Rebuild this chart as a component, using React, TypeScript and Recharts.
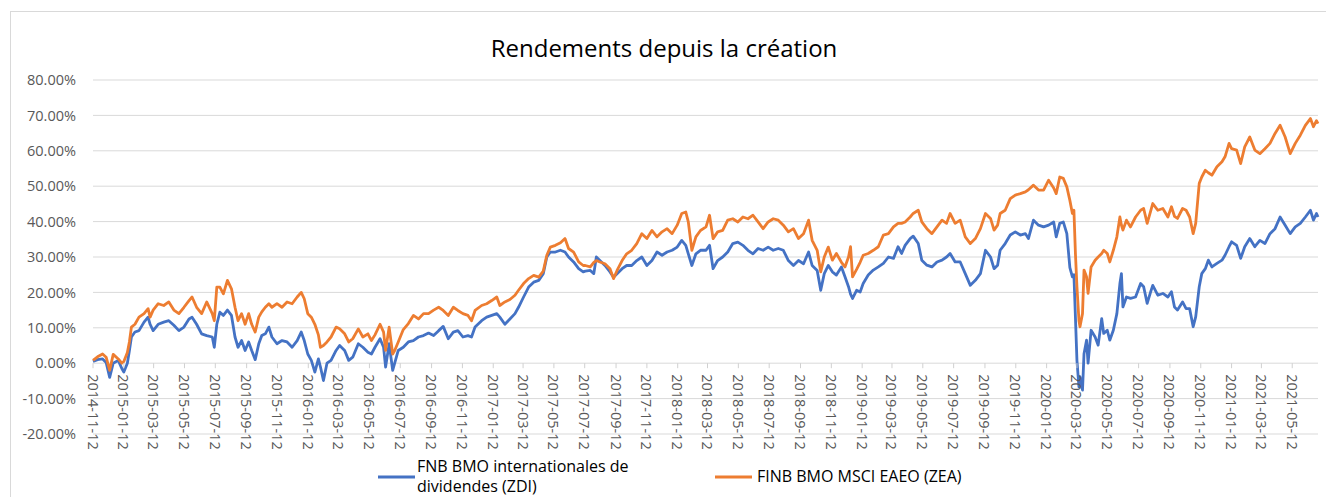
import { LineChart, Line, XAxis, YAxis, CartesianGrid } from 'recharts';

// Cumulative return since inception, in percent
const dates = [
  '2014-11-12', '2014-11-21', '2014-12-01', '2014-12-08', '2014-12-15', '2014-12-22', '2015-01-01', '2015-01-08',
  '2015-01-12', '2015-01-19', '2015-01-23', '2015-01-27', '2015-02-03', '2015-02-11', '2015-02-21', '2015-03-01',
  '2015-03-05', '2015-03-11', '2015-03-21', '2015-04-01', '2015-04-11', '2015-04-21', '2015-05-01', '2015-05-11',
  '2015-05-21', '2015-05-27', '2015-06-05', '2015-06-15', '2015-06-25', '2015-07-06', '2015-07-10', '2015-07-15',
  '2015-07-21', '2015-07-28', '2015-08-05', '2015-08-13', '2015-08-20', '2015-08-26', '2015-09-02', '2015-09-09',
  '2015-09-16', '2015-09-22', '2015-09-29', '2015-10-06', '2015-10-12', '2015-10-19', '2015-10-26', '2015-11-01',
  '2015-11-11', '2015-11-21', '2015-12-01', '2015-12-11', '2015-12-21', '2015-12-29', '2016-01-04', '2016-01-11',
  '2016-01-18', '2016-01-25', '2016-02-01', '2016-02-05', '2016-02-11', '2016-02-18', '2016-02-26', '2016-03-07',
  '2016-03-14', '2016-03-24', '2016-04-01', '2016-04-09', '2016-04-20', '2016-04-29', '2016-05-09', '2016-05-16',
  '2016-05-23', '2016-06-02', '2016-06-09', '2016-06-13', '2016-06-20', '2016-06-27', '2016-07-01', '2016-07-08',
  '2016-07-18', '2016-07-28', '2016-08-07', '2016-08-17', '2016-08-27', '2016-09-06', '2016-09-16', '2016-09-26',
  '2016-10-05', '2016-10-15', '2016-10-25', '2016-11-03', '2016-11-13', '2016-11-23', '2016-11-30', '2016-12-07',
  '2016-12-20', '2016-12-30', '2017-01-09', '2017-01-19', '2017-01-25', '2017-02-04', '2017-02-14', '2017-02-24',
  '2017-03-03', '2017-03-13', '2017-03-23', '2017-04-02', '2017-04-12', '2017-04-21', '2017-04-28', '2017-05-05',
  '2017-05-15', '2017-05-25', '2017-06-03', '2017-06-10', '2017-06-20', '2017-06-30', '2017-07-09', '2017-07-13',
  '2017-07-23', '2017-07-30', '2017-08-04', '2017-08-11', '2017-08-21', '2017-08-31', '2017-09-07', '2017-09-14',
  '2017-09-24', '2017-10-03', '2017-10-13', '2017-10-23', '2017-11-02', '2017-11-12', '2017-11-22', '2017-12-02',
  '2017-12-12', '2017-12-22', '2018-01-01', '2018-01-11', '2018-01-20', '2018-01-28', '2018-02-02', '2018-02-09',
  '2018-02-17', '2018-02-26', '2018-03-09', '2018-03-16', '2018-03-23', '2018-04-01', '2018-04-11', '2018-04-21',
  '2018-05-01', '2018-05-11', '2018-05-21', '2018-05-31', '2018-06-10', '2018-06-20', '2018-06-30', '2018-07-10',
  '2018-07-20', '2018-07-30', '2018-08-09', '2018-08-19', '2018-08-29', '2018-09-08', '2018-09-18', '2018-09-28',
  '2018-10-05', '2018-10-15', '2018-10-22', '2018-10-29', '2018-11-06', '2018-11-14', '2018-11-22', '2018-12-02',
  '2018-12-09', '2018-12-16', '2018-12-20', '2018-12-24', '2019-01-01', '2019-01-08', '2019-01-14', '2019-01-24',
  '2019-02-03', '2019-02-13', '2019-02-23', '2019-03-05', '2019-03-15', '2019-03-24', '2019-03-31', '2019-04-07',
  '2019-04-17', '2019-04-23', '2019-05-03', '2019-05-10', '2019-05-20', '2019-05-30', '2019-06-09', '2019-06-19',
  '2019-06-28', '2019-07-05', '2019-07-15', '2019-07-25', '2019-08-04', '2019-08-14', '2019-08-24', '2019-09-03',
  '2019-09-13', '2019-09-23', '2019-09-30', '2019-10-07', '2019-10-12', '2019-10-22', '2019-11-01', '2019-11-11',
  '2019-11-21', '2019-12-01', '2019-12-07', '2019-12-17', '2019-12-27', '2020-01-06', '2020-01-16', '2020-01-26',
  '2020-01-31', '2020-02-07', '2020-02-14', '2020-02-21', '2020-02-27', '2020-03-03', '2020-03-06', '2020-03-09',
  '2020-03-12', '2020-03-16', '2020-03-18', '2020-03-23', '2020-03-26', '2020-03-31', '2020-04-03', '2020-04-09',
  '2020-04-17', '2020-04-23', '2020-04-30', '2020-05-04', '2020-05-11', '2020-05-16', '2020-05-23', '2020-05-30',
  '2020-06-05', '2020-06-08', '2020-06-11', '2020-06-18', '2020-06-26', '2020-07-06', '2020-07-16', '2020-07-22',
  '2020-07-29', '2020-08-05', '2020-08-09', '2020-08-19', '2020-08-29', '2020-09-08', '2020-09-15', '2020-09-21',
  '2020-09-27', '2020-10-07', '2020-10-14', '2020-10-21', '2020-10-28', '2020-11-02', '2020-11-09', '2020-11-14',
  '2020-11-21', '2020-11-27', '2020-12-04', '2020-12-14', '2020-12-24', '2020-12-30', '2021-01-07', '2021-01-12',
  '2021-01-22', '2021-01-30', '2021-02-07', '2021-02-17', '2021-02-27', '2021-03-09', '2021-03-19', '2021-03-29',
  '2021-04-08', '2021-04-18', '2021-04-28', '2021-05-08', '2021-05-18', '2021-05-28', '2021-06-07', '2021-06-17',
  '2021-06-23', '2021-06-29', '2021-07-02',
];

const zdi = [
  0.5, 1.0, 1.2, 0.2, -4.0, 0.0, 0.8, -1.5,
  -2.5, 0.0, 3.5, 7.4, 8.8, 9.2, 11.6, 13.0,
  11.0, 9.2, 11.0, 11.6, 12.0, 10.7, 9.2, 10.2,
  12.5, 13.0, 11.0, 8.3, 7.8, 7.4, 4.5, 11.0,
  14.4, 13.5, 15.0, 13.5, 7.4, 4.5, 6.4, 3.6,
  6.0, 3.6, 1.0, 5.5, 7.8, 8.3, 10.2, 7.4,
  5.5, 6.4, 6.0, 4.5, 6.4, 8.8, 6.4, 2.6,
  0.8, -2.5, 1.2, -1.0, -4.9, 0.0, 0.8, 3.6,
  5.0, 3.6, 0.8, 1.7, 5.5, 4.5, 3.1, 2.6,
  4.5, 6.9, 4.5, -1.1, 5.5, -2.0, 0.0, 3.6,
  4.5, 6.0, 6.4, 7.4, 7.8, 8.5, 7.8, 9.2,
  10.4, 6.9, 8.8, 9.2, 7.4, 7.8, 7.4, 10.2,
  12.0, 13.0, 13.5, 14.0, 13.0, 11.0, 12.5, 14.0,
  15.8, 18.7, 21.5, 22.9, 23.4, 25.3, 30.0, 31.4,
  31.4, 31.9, 31.4, 30.0, 28.6, 26.7, 25.8, 26.0,
  26.2, 25.3, 30.0, 29.0, 27.6, 25.8, 24.3, 25.3,
  26.7, 27.6, 27.6, 29.0, 30.0, 27.6, 29.0, 31.4,
  30.5, 31.4, 31.9, 32.8, 34.7, 33.3, 30.9, 27.6,
  30.9, 31.9, 31.9, 33.3, 26.7, 29.0, 30.0, 31.4,
  33.8, 34.2, 33.3, 31.9, 30.9, 32.4, 31.9, 32.8,
  31.9, 32.4, 31.9, 29.0, 27.6, 29.0, 28.1, 31.4,
  27.6, 26.2, 20.6, 25.3, 27.6, 25.8, 24.9, 27.2,
  24.4, 21.6, 19.5, 18.3, 20.6, 20.1, 22.5, 24.9,
  26.3, 27.2, 28.2, 30.0, 29.6, 32.9, 31.0, 33.3,
  35.2, 35.9, 33.8, 29.1, 27.7, 27.2, 28.6, 29.1,
  30.0, 31.0, 28.6, 28.6, 25.3, 22.0, 23.4, 25.3,
  31.9, 30.0, 26.7, 27.7, 31.9, 33.8, 36.2, 37.1,
  36.2, 36.6, 35.2, 40.4, 39.0, 38.5, 39.0, 39.9,
  35.7, 39.5, 39.9, 36.6, 27.0, 24.4, 25.0, 13.0,
  0.8, -6.7, -3.9, -7.6, 2.7, 6.5, 0.0, 9.3,
  7.4, 5.1, 12.6, 8.4, 9.3, 6.5, 9.3, 14.0,
  22.5, 25.3, 15.9, 18.7, 18.3, 18.7, 22.5, 21.6,
  16.9, 20.2, 22.0, 19.2, 19.7, 18.7, 20.2, 15.9,
  15.0, 17.3, 15.4, 15.4, 10.3, 13.1, 21.6, 25.3,
  26.7, 29.1, 27.2, 28.2, 29.1, 30.5, 32.9, 34.3,
  33.3, 29.6, 32.9, 35.2, 32.9, 34.7, 33.8, 36.6,
  38.0, 41.3, 39.0, 36.6, 38.5, 39.5, 41.3, 43.2,
  40.4, 42.3, 41.3,
];

const zea = [
  0.8, 1.8, 2.6, 1.7, -2.0, 2.5, 1.2, 0.0,
  0.5, 3.0, 6.0, 10.2, 11.0, 13.0, 14.0, 15.4,
  13.0, 15.0, 16.8, 16.3, 17.3, 15.0, 14.0, 15.8,
  17.7, 18.7, 15.8, 14.0, 17.3, 14.0, 12.0, 21.5,
  21.5, 19.6, 23.4, 21.0, 15.8, 12.0, 14.0, 11.0,
  14.0, 11.0, 8.8, 13.0, 14.5, 15.8, 16.8, 15.8,
  16.8, 15.8, 17.3, 16.8, 18.7, 20.0, 18.2, 14.0,
  13.0, 11.0, 8.0, 4.5, 5.0, 6.0, 7.4, 10.2,
  9.7, 8.3, 6.0, 6.9, 9.7, 7.4, 8.3, 6.4,
  8.0, 11.0, 8.8, 3.6, 10.2, 2.6, 3.6, 6.0,
  9.5, 11.2, 13.5, 12.5, 14.0, 14.0, 15.0, 15.8,
  14.9, 13.5, 15.8, 14.9, 14.0, 13.5, 12.0, 14.9,
  16.3, 16.8, 17.7, 18.7, 16.3, 17.3, 18.0, 19.2,
  20.6, 22.5, 23.9, 24.8, 24.3, 26.0, 30.5, 32.8,
  33.3, 34.0, 35.2, 32.4, 31.4, 28.6, 27.6, 27.6,
  27.2, 28.5, 29.0, 28.6, 28.1, 26.7, 23.9, 26.2,
  29.0, 30.9, 31.9, 33.8, 36.6, 35.2, 37.5, 35.7,
  37.1, 38.0, 36.6, 39.0, 42.3, 42.7, 39.9, 31.9,
  35.7, 37.5, 38.5, 41.8, 35.2, 37.1, 37.5, 40.4,
  40.8, 39.9, 41.3, 40.8, 41.8, 39.9, 38.0, 39.9,
  40.8, 40.4, 39.0, 37.1, 38.0, 35.2, 36.6, 40.4,
  34.7, 31.9, 25.8, 30.0, 32.8, 29.1, 31.0, 28.5,
  27.2, 30.0, 32.9, 24.4, 26.5, 28.5, 30.5, 31.0,
  31.9, 32.9, 36.2, 36.6, 38.5, 39.5, 39.5, 39.9,
  41.3, 42.3, 43.2, 39.9, 38.0, 36.6, 38.5, 40.4,
  39.5, 42.3, 39.5, 40.4, 35.7, 33.8, 35.2, 38.0,
  42.3, 40.9, 37.6, 39.0, 42.3, 43.2, 46.5, 47.5,
  47.9, 48.4, 49.0, 50.3, 48.9, 48.9, 51.7, 49.5,
  47.9, 52.6, 52.2, 49.8, 46.0, 42.3, 43.2, 31.0,
  21.6, 12.0, 10.3, 14.0, 26.3, 24.4, 19.7, 27.2,
  29.1, 30.0, 31.0, 31.9, 31.0, 28.6, 31.9, 35.7,
  41.3, 39.0, 37.6, 40.4, 38.5, 41.3, 43.2, 43.7,
  39.5, 43.0, 45.1, 43.2, 43.7, 41.3, 44.2, 41.5,
  40.9, 43.7, 43.2, 41.3, 36.6, 39.5, 50.8, 52.6,
  54.5, 53.8, 53.1, 55.5, 56.9, 58.3, 62.1, 60.6,
  60.2, 56.4, 61.1, 63.9, 60.2, 59.2, 60.6, 62.1,
  64.9, 67.2, 63.9, 59.2, 62.1, 64.4, 67.2, 69.1,
  66.8, 68.5, 67.7,
];

const tickDates = [
  '2014-11-12', '2015-01-12', '2015-03-12', '2015-05-12', '2015-07-12', '2015-09-12', '2015-11-12',
  '2016-01-12', '2016-03-12', '2016-05-12', '2016-07-12', '2016-09-12', '2016-11-12',
  '2017-01-12', '2017-03-12', '2017-05-12', '2017-07-12', '2017-09-12', '2017-11-12',
  '2018-01-12', '2018-03-12', '2018-05-12', '2018-07-12', '2018-09-12', '2018-11-12',
  '2019-01-12', '2019-03-12', '2019-05-12', '2019-07-12', '2019-09-12', '2019-11-12',
  '2020-01-12', '2020-03-12', '2020-05-12', '2020-07-12', '2020-09-12', '2020-11-12',
  '2021-01-12', '2021-03-12', '2021-05-12',
];

const yTicks = [-20, -10, 0, 10, 20, 30, 40, 50, 60, 70, 80];

const series = [
  { key: 'zdi', lines: ['FNB BMO internationales de', 'dividendes (ZDI)'], color: '#4472C4' },
  { key: 'zea', lines: ['FINB BMO MSCI EAEO (ZEA)'], color: '#ED7D31' },
];

const W = 1326;
const H = 497;
const PLOT_TOP = 80;
const PLOT_BOTTOM = 434;
const Y_MIN = -20;
const Y_MAX = 80;
const ZERO_Y = PLOT_TOP + ((PLOT_BOTTOM - PLOT_TOP) * Y_MAX) / (Y_MAX - Y_MIN);
const FONT = '"Open Sans", "Noto Sans", sans-serif';

const toTime = (d: string) => new Date(d + 'T00:00:00Z').getTime();

const data = dates.map((d, i) => ({ t: toTime(d), zdi: zdi[i], zea: zea[i] }));

// Excel puts the date axis where y = 0, so ticks and labels are drawn there
const DateTick = ({ x, payload }: any) => {
  const label = new Date(payload.value).toISOString().slice(0, 10);
  return (
    <g>
      <line x1={x} x2={x} y1={ZERO_Y} y2={ZERO_Y + 5} stroke="#d0d0d0" />
      <text
        transform={`translate(${x},${ZERO_Y + 11}) rotate(90)`}
        textAnchor="start"
        dominantBaseline="central"
        fill="#595959"
        fontSize={14.5}
        fontFamily={FONT}
      >
        {label}
      </text>
    </g>
  );
};

const legendPos = [
  { lineX: 378, textX: 417, y: 477 },
  { lineX: 715, textX: 757, y: 477 },
];

export default function App() {
  return (
    <div style={{ position: 'absolute', left: 0, top: 0, width: W, height: H, background: '#fff', overflow: 'hidden' }}>
      <div
        style={{
          position: 'absolute',
          left: 10,
          top: 11,
          width: W,
          height: H,
          borderLeft: '1px solid #d9d9d9',
          borderTop: '1px solid #d9d9d9',
        }}
      />
      <LineChart width={W} height={H} data={data} margin={{ top: PLOT_TOP, right: 8, bottom: H - PLOT_BOTTOM - 30, left: 0 }}>
        <CartesianGrid vertical={false} stroke="#d9d9d9" />
        <XAxis
          type="number"
          dataKey="t"
          domain={[toTime(dates[0]), toTime(dates[dates.length - 1])]}
          ticks={tickDates.map(toTime)}
          interval={0}
          height={30}
          axisLine={false}
          tickLine={false}
          tick={<DateTick />}
        />
        <YAxis
          domain={[Y_MIN, Y_MAX]}
          ticks={yTicks}
          width={93}
          axisLine={false}
          tickLine={false}
          tickSize={0}
          tickMargin={17}
          tickFormatter={(v: number) => `${v.toFixed(2)}%`}
          tick={{ fill: '#595959', fontSize: 14.5, fontFamily: FONT }}
        />
        {series.map((s) => (
          <Line
            key={s.key}
            type="linear"
            dataKey={s.key}
            stroke={s.color}
            strokeWidth={2.8}
            strokeLinejoin="round"
            dot={false}
            activeDot={false}
            isAnimationActive={false}
          />
        ))}
      </LineChart>
      <svg width={W} height={H} style={{ position: 'absolute', left: 0, top: 0, pointerEvents: 'none' }}>
        <text x={664} y={57} textAnchor="middle" fontSize={24} fontFamily={FONT} fill="#000">
          Rendements depuis la création
        </text>
        {series.map((s, i) => {
          const p = legendPos[i];
          const first = p.y - (s.lines.length - 1) * 10 + 5;
          return (
            <g key={s.key}>
              <line x1={p.lineX} x2={p.lineX + 37} y1={p.y} y2={p.y} stroke={s.color} strokeWidth={3} />
              {s.lines.map((ln, j) => (
                <text key={j} x={p.textX} y={first + j * 20} fontSize={16} fontFamily={FONT} fill="#000">
                  {ln}
                </text>
              ))}
            </g>
          );
        })}
      </svg>
    </div>
  );
}
